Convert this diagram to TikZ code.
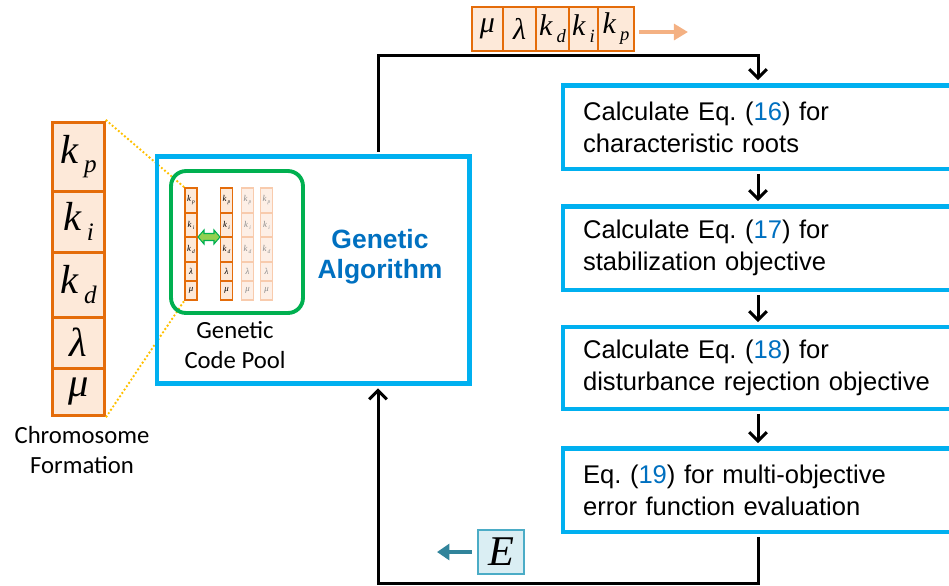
\documentclass[tikz,border=0pt]{standalone}
\usepackage{fontspec}
\setmainfont{Liberation Sans}
\newfontfamily\calibri{Carlito}
\newfontfamily\timesfont{Liberation Serif}
\usetikzlibrary{arrows.meta}
\frenchspacing

\definecolor{gablue}{HTML}{00B0F0}
\definecolor{eqblue}{HTML}{0070C0}
\definecolor{poolgreen}{HTML}{00B050}
\definecolor{swapgreen}{HTML}{92D050}
\definecolor{geneorange}{HTML}{E46C0A}
\definecolor{genefill}{HTML}{FDE9D9}
\definecolor{fadeline}{HTML}{F8CBAD}
\definecolor{fadefill}{HTML}{FDEFE6}
\definecolor{linkgold}{HTML}{FFC000}
\definecolor{peach}{HTML}{F4B183}
\definecolor{errteal}{HTML}{31849B}
\definecolor{errline}{HTML}{4BACC6}
\definecolor{errfill}{HTML}{DAEEF3}

\newcommand{\eqnum}[1]{\textcolor{eqblue}{#1}}
% gain symbols in serif italic, subscript set low and apart
\newcommand{\kvar}[1]{{\timesfont\itshape k\kern0.14em\raisebox{-0.5ex}{\scalebox{0.62}{#1}}}}
\newcommand{\lam}{{\timesfont\itshape\symbol{"03BB}}}
\newcommand{\mug}{{\timesfont\itshape\symbol{"03BC}}}

\begin{document}
\begin{tikzpicture}[x=0.567pt,y=-0.567pt,
  gene/.style={draw=geneorange, fill=genefill, line width=1.7pt, inner sep=0pt,
    minimum width=30pt, font=\fontsize{23}{23}\selectfont},
  tinygene/.style={draw=geneorange, fill=genefill, line width=0.8pt, inner sep=0pt,
    minimum width=6.8pt, font=\fontsize{5}{5}\selectfont},
  fadegene/.style={tinygene, draw=fadeline, fill=fadefill, text=black!45},
  strip/.style={draw=geneorange, fill=genefill, line width=1.2pt, inner sep=0pt,
    minimum height=25pt, font=\fontsize{17}{17}\selectfont},
  flow/.style={draw=gablue, line width=2.8pt, minimum width=247.8pt, minimum height=47.6pt,
    inner xsep=11.3pt, text width=225pt, align=left, font=\fontsize{14.5}{18}\selectfont},
  link/.style={line width=1.7pt, -{Straight Barb[length=5pt,width=10pt]},
    shorten >=1.4pt, shorten <=1.4pt},
  zoomlink/.style={linkgold, line width=1.5pt, line cap=round, dash pattern=on 0pt off 2.3pt},
  caption/.style={font=\calibri\fontsize{14}{17}\selectfont, align=center}
]
\useasboundingbox (0,0) rectangle (949,585);
\clip (0,0) rectangle (949,585);

% chromosome formation (large)
\foreach \yc/\h/\lab/\i in {156.5/69/\kvar{p}/1, 221.5/61/\kvar{i}/2, 284.5/65/\kvar{d}/3,
                            342.5/51/\lam/4, 391.5/47/\mug/5}
  \node[gene, minimum height=\h*0.567pt] (g\i) at (78.5,\yc) {\lab};
\node[caption] (chromlab) at (82,450) {Chromosome\\Formation};

% genetic code pool: four small chromosomes
\foreach \cx/\c in {191/1, 226.5/2}
  \foreach \yc/\h/\lab/\i in {200.5/25/\kvar{p}/1, 225/24/\kvar{i}/2, 249.5/25/\kvar{d}/3,
                              271.5/19/\lam/4, 290.5/19/\mug/5}
    \node[tinygene, minimum height=\h*0.567pt] (s\c-\i) at (\cx,\yc) {\lab};
\foreach \cx/\c in {247.5/3, 266.5/4}
  \foreach \yc/\h/\lab/\i in {200.5/25/\kvar{p}/1, 225/24/\kvar{i}/2, 249.5/25/\kvar{d}/3,
                              271.5/19/\lam/4, 290.5/19/\mug/5}
    \node[fadegene, minimum height=\h*0.567pt] (s\c-\i) at (\cx,\yc) {\lab};

% dotted zoom lines
\draw[zoomlink] (g1.north east) -- (s1-1.north west);
\draw[zoomlink] (g5.south east) -- (s1-5.south west);

% crossover arrow
\filldraw[fill=swapgreen, draw=poolgreen, line width=0.6pt]
  (198,237) -- (204,230) -- (204,233.5) -- (214,233.5) -- (214,230) -- (220,237)
  -- (214,244) -- (214,240.5) -- (204,240.5) -- (204,244) -- cycle;

% pool and algorithm frames
\node[draw=poolgreen, line width=2.2pt, rounded corners=8.5pt,
      minimum width=74.8pt, minimum height=80.5pt] (pool) at (237,242) {};
\node[caption] (poollab) at (235,345) {Genetic\\Code Pool};
\node[draw=gablue, line width=2.8pt, minimum width=177.2pt, minimum height=128.7pt]
  (ga) at (313.25,270) {};
\node[font=\bfseries\fontsize{15}{17}\selectfont, text=eqblue, align=center]
  (galab) at (380,257) {Genetic\\Algorithm};

% evaluation steps
\node[flow] (b1) at (781.5,127) {Calculate Eq. (\eqnum{16}) for\\characteristic roots};
\node[flow] (b2) at (781.5,248) {Calculate Eq. (\eqnum{17}) for\\stabilization objective};
\node[flow, minimum height=46.5pt] (b3) at (781.5,368)
  {Calculate Eq. (\eqnum{18}) for\\disturbance rejection objective};
\node[flow] (b4) at (781.5,490) {Eq. (\eqnum{19}) for multi-objective\\error function evaluation};

% loop connectors
\coordinate (spine) at (758,55);
\coordinate (up) at (378,55);
\coordinate (ret) at (378,583);
\draw[link] (ga.north -| up) -- (up) -| (b1.north -| spine);
\draw[link] (b1.south -| spine) -- (b2.north -| spine);
\draw[link] (b2.south -| spine) -- (b3.north -| spine);
\draw[link] (b3.south -| spine) -- (b4.north -| spine);
\draw[link] (b4.south -| spine) |- (ret) -- (ga.south -| ret);

% parameter vector sent to the evaluation
\node[strip, minimum width=17.6pt] (m1) at (487.5,29) {\mug};
\node[strip, minimum width=18.7pt] (m2) at (519.5,29) {\lam};
\node[strip, minimum width=18.7pt] (m3) at (552.5,29) {\kvar{d}};
\node[strip, minimum width=16.4pt] (m4) at (583.5,29) {\kvar{i}};
\node[strip, minimum width=20.4pt] (m5) at (616,29) {\kvar{p}};
\coordinate (pout) at (688,32);
\draw[peach, line width=2.6pt, -{Triangle[length=8pt,width=9pt]}, shorten <=2.5pt]
  (m5.east |- pout) -- (pout);

% error value returned
\node[draw=errline, fill=errfill, line width=1pt, minimum width=26pt, minimum height=25pt,
      inner sep=0pt, font=\fontsize{24}{24}\selectfont] (err) at (501,552)
  {{\timesfont\itshape E}};
\coordinate (eout) at (437,552);
\draw[errteal, line width=2.8pt, -{Triangle[length=7pt,width=9pt]}, shorten <=3pt]
  (err.west) -- (eout);
\end{tikzpicture}
\end{document}
